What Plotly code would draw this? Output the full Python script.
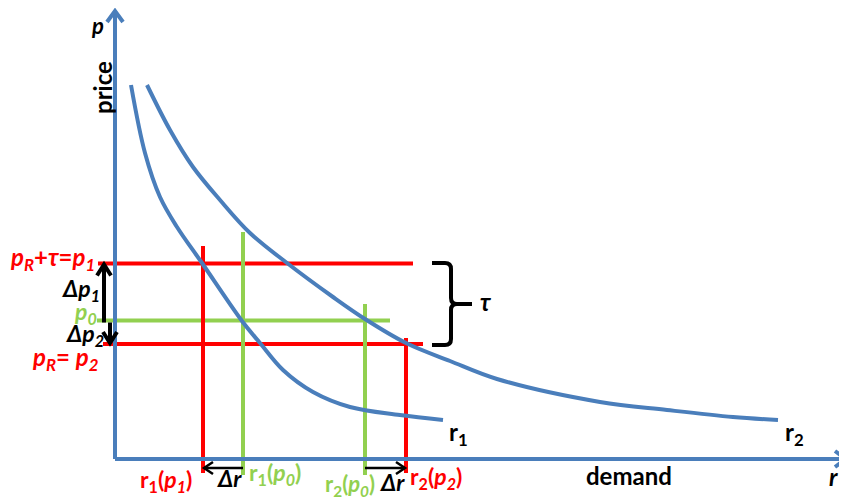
import plotly.graph_objects as go

# ---------------- data (arbitrary units) ----------------
# demand curve r1
r1_r = [1.6, 3.0, 4.5, 6.2, 8.7, 12.7, 14.5, 16.8, 19.8, 23.5, 28.5, 32.8]
r1_p = [37.4, 30.6, 26.2, 23.2, 19.6, 13.8, 11.6, 8.9, 6.7, 5.2, 4.4, 3.9]
# demand curve r2
r2_r = [3.2, 5.5, 7.8, 10.5, 13.5, 17.2, 21.8, 25.0, 29.1, 33.5, 38.2, 48.5, 55.2, 61.8, 66.3]
r2_p = [37.4, 32.9, 29.2, 25.9, 22.6, 19.6, 16.2, 14.0, 11.6, 9.8, 8.0, 5.7, 4.9, 4.2, 3.9]

# price levels
p1 = 19.55   # pR + tau
p0 = 13.85
p2 = 11.5    # pR
# demands at those prices
r1_at_p1 = 8.8
r1_at_p0 = 12.8
r2_at_p0 = 25.0
r2_at_p2 = 29.1

BLUE = "#4A7EBB"
RED = "#FF0000"
GREEN = "#92D050"
FONT = "Lato"

fig = go.Figure()

def seg(x, y, color, w=4):
    fig.add_trace(go.Scatter(x=x, y=y, mode="lines", line=dict(color=color, width=w),
                             hoverinfo="skip", showlegend=False))

# horizontal price lines
seg([-1.7, 29.8], [p1, p1], RED)
seg([-1.8, 27.5], [p0, p0], GREEN)
seg([-1.2, 30.8], [p2, p2], RED)
# vertical demand lines
seg([r1_at_p1, r1_at_p1], [-1.4, p1 + 1.75], RED)
seg([r1_at_p0, r1_at_p0], [-1.6, p0 + 8.85], GREEN)
seg([r2_at_p0, r2_at_p0], [-1.6, p0 + 1.65], GREEN)
seg([r2_at_p2, r2_at_p2], [-1.4, p2 + 0.6], RED)

# demand curves
fig.add_trace(go.Scatter(x=r1_r, y=r1_p, mode="lines", line=dict(color=BLUE, width=4, shape="spline"),
                         hoverinfo="skip", showlegend=False))
fig.add_trace(go.Scatter(x=r2_r, y=r2_p, mode="lines", line=dict(color=BLUE, width=4, shape="spline"),
                         hoverinfo="skip", showlegend=False))

# axes
seg([0, 0], [0, 44.7], BLUE)
seg([0, 73.0], [0, 0], BLUE)

# black arrows (shafts)
seg([-1.1, -1.1], [p0 - 0.2, p1 - 0.1], "black", 4)
seg([-0.5, -0.5], [p0 - 0.2, p2 + 0.1], "black", 4)
seg([r1_at_p0, r1_at_p1 + 0.1], [-0.9, -0.9], "black", 2.5)
seg([r2_at_p0, r2_at_p2 - 0.1], [-0.9, -0.9], "black", 2.5)

shapes = []
def chevron(path, color, w):
    shapes.append(dict(type="path", path=path, xref="x", yref="y",
                       line=dict(color=color, width=w)))

# axis arrow heads
chevron("M -0.8,43.7 L 0,44.8 L 0.8,43.7", BLUE, 4)
chevron("M 72.0,0.8 L 73.1,0 L 72.0,-0.8", BLUE, 4)
# delta p arrow heads
x1 = -1.1
chevron(f"M {x1-0.7},{p1-1.2} L {x1},{p1-0.1} L {x1+0.7},{p1-1.2}", "black", 4)
x2 = -0.5
chevron(f"M {x2-0.7},{p2+1.2} L {x2},{p2+0.1} L {x2+0.7},{p2+1.2}", "black", 4)
# delta r arrow heads
chevron(f"M {r1_at_p1+1.0},-0.3 L {r1_at_p1+0.1},-0.9 L {r1_at_p1+1.0},-1.5", "black", 2.5)
chevron(f"M {r2_at_p2-1.0},-0.3 L {r2_at_p2-0.1},-0.9 L {r2_at_p2-1.0},-1.5", "black", 2.5)
# tau brace
top, bot = p1 + 0.05, p2 - 0.1
mid = (top + bot) / 2
chevron(f"M 31.7,{top} L 33.0,{top} Q 33.6,{top} 33.6,{top-0.6} L 33.6,{mid+0.6} "
        f"Q 33.6,{mid} 34.2,{mid} L 35.7,{mid} M 34.2,{mid} Q 33.6,{mid} 33.6,{mid-0.6} "
        f"L 33.6,{bot+0.6} Q 33.6,{bot} 33.0,{bot} L 31.7,{bot}", "black", 4)

ann = []
def label(x, y, text, color="black", size=24, xanchor="center", angle=0):
    ann.append(dict(x=x, y=y, xref="x", yref="y", text=text, showarrow=False,
                    font=dict(family=FONT, size=size, color=color),
                    xanchor=xanchor, yanchor="middle", textangle=angle))

label(-1.8, 43.4, "<b><i>p</i></b>", size=22)
label(-1.3, 37.1, "<b>price</b>", angle=-90)
label(-6.3, 20.1, "<b><i>p<sub>R</sub></i>+<i>τ</i>=<i>p<sub>1</sub></i></b>", RED)
label(-3.4, 17.0, "<b><i>Δp<sub>1</sub></i></b>", size=23)
label(-3.0, 14.7, "<b><i>p<sub>0</sub></i></b>", GREEN, size=23)
label(-3.0, 12.5, "<b><i>Δp<sub>2</sub></i></b>", size=23)
label(-5.0, 10.1, "<b><i>p<sub>R</sub></i>= <i>p<sub>2</sub></i></b>", RED)
label(36.3, 15.8, "<b><i>τ</i></b>", xanchor="left")
label(34.3, 2.6, "<b>r<sub>1</sub></b>")
label(67.9, 2.6, "<b>r<sub>2</sub></b>")
label(51.4, -1.6, "<b>demand</b>")
label(71.8, -1.7, "<b><i>r</i></b>")
label(5.1, -2.1, "<b>r<sub>1</sub>(<i>p<sub>1</sub></i>)</b>", RED, size=23)
label(11.4, -1.9, "<b><i>Δr</i></b>", size=23)
label(16.0, -1.4, "<b>r<sub>1</sub>(<i>p<sub>0</sub></i>)</b>", GREEN, size=23)
label(23.5, -2.6, "<b>r<sub>2</sub>(<i>p<sub>0</sub></i>)</b>", GREEN, size=22)
label(27.7, -2.3, "<b><i>Δr</i></b>", size=23)
label(32.1, -1.8, "<b>r<sub>2</sub>(<i>p<sub>2</sub></i>)</b>", RED, size=23)

# the page body has an 8px margin, so the data window is shifted to compensate
fig.update_layout(
    width=847, height=500,
    margin=dict(l=0, r=0, t=0, b=0),
    paper_bgcolor="white", plot_bgcolor="white",
    xaxis=dict(range=[-10.7, 74.0], visible=False, fixedrange=True),
    yaxis=dict(range=[-4.9, 45.1], visible=False, fixedrange=True),
    shapes=shapes, annotations=ann, showlegend=False,
)

fig.write_html("out.html")
